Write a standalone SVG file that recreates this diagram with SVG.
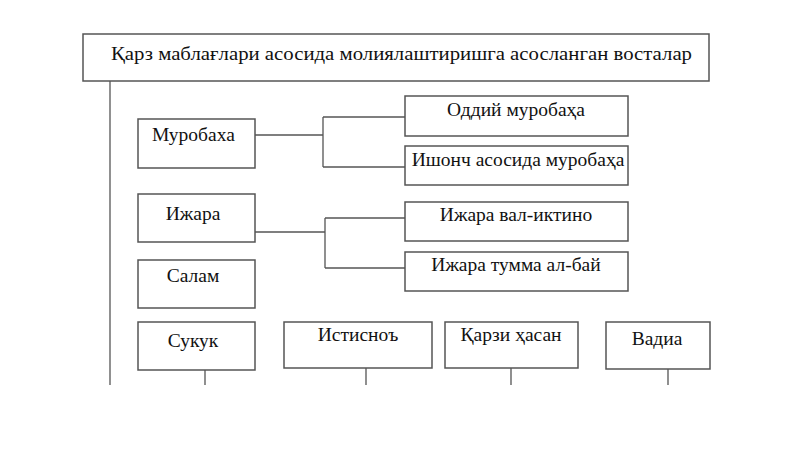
<svg xmlns="http://www.w3.org/2000/svg" width="800" height="449" viewBox="0 0 800 449">
<style>
rect{fill:#fff;stroke:#555;stroke-width:1.5}
text{font-family:"Liberation Serif",serif;font-size:19.5px;fill:#111}
.c line,.c path{stroke:#555;stroke-width:1.3;fill:none}
</style>
<rect x="0" y="0" width="800" height="449" style="stroke:none"/>
<g class="c">
<line x1="110" y1="81" x2="110" y2="385"/>
<path d="M255 135H323M323 117V167M323 117H405M323 167H405"/>
<path d="M255 232H325M325 218V268M325 218H405M325 268H405"/>
<path d="M205 370V385M366 368V385M511 368V385M668 369V385"/>
</g>
<g id="title"><rect x="83" y="34" width="626" height="47"/><text x="111" y="60" textLength="581" lengthAdjust="spacingAndGlyphs">Қарз маблағлари асосида молиялаштиришга асосланган восталар</text></g>
<g id="murobaha"><rect x="138" y="119" width="117" height="49"/><text x="152" y="141">Муробаха</text></g>
<g id="oddiy"><rect x="405" y="96" width="223" height="40"/><text x="516" y="116" text-anchor="middle">Оддий муробаҳа</text></g>
<g id="ishonch"><rect x="405" y="146" width="223" height="39"/><text x="518" y="166" text-anchor="middle">Ишонч асосида муробаҳа</text></g>
<g id="ijara"><rect x="138" y="194" width="117" height="48"/><text x="193" y="220" text-anchor="middle">Ижара</text></g>
<g id="ijara1"><rect x="405" y="202" width="223" height="39"/><text x="516" y="221" text-anchor="middle">Ижара вал-иктино</text></g>
<g id="ijara2"><rect x="405" y="252" width="223" height="39"/><text x="516" y="271" text-anchor="middle">Ижара тумма ал-бай</text></g>
<g id="salam"><rect x="138" y="260" width="117" height="48"/><text x="193" y="282" text-anchor="middle">Салам</text></g>
<g id="sukuk"><rect x="138" y="322" width="117" height="48"/><text x="193" y="347" text-anchor="middle">Сукук</text></g>
<g id="istisno"><rect x="284" y="322" width="148" height="46"/><text x="358" y="341" text-anchor="middle">Истисноъ</text></g>
<g id="qarzi"><rect x="445" y="322" width="133" height="46"/><text x="511" y="341" text-anchor="middle">Қарзи ҳасан</text></g>
<g id="vadia"><rect x="606" y="322" width="104" height="47"/><text x="657" y="345" text-anchor="middle">Вадиа</text></g>
</svg>
